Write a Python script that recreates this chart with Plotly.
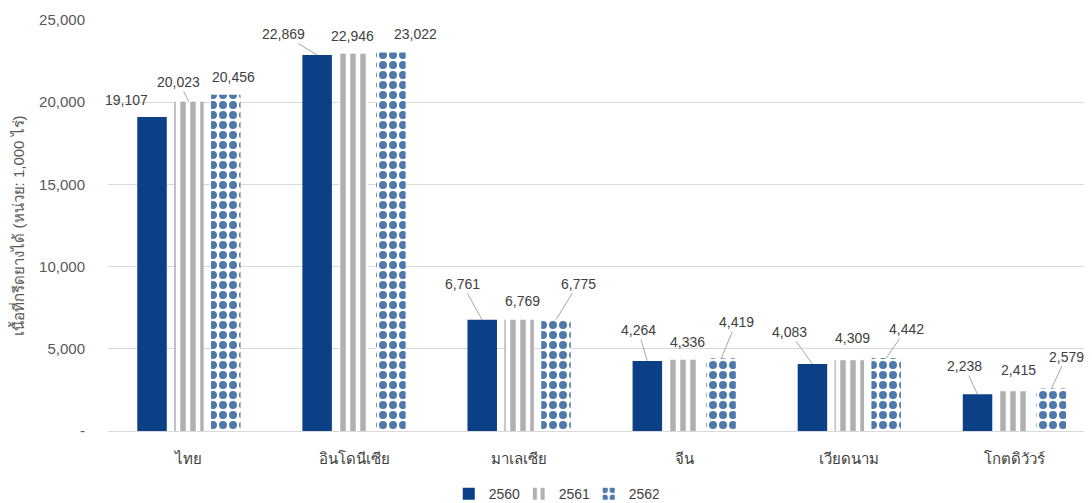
import plotly.graph_objects as go

countries = ["ไทย", "อินโดนีเซีย", "มาเลเซีย", "จีน", "เวียดนาม", "โกตดิวัวร์"]
v2560 = [19107, 22869, 6761, 4264, 4083, 2238]
v2561 = [20023, 22946, 6769, 4336, 4309, 2415]
v2562 = [20456, 23022, 6775, 4419, 4442, 2579]

# label placement (pixels from bar top), like the original's data-label layout
dx2560 = [-25, -34, -20, -9, -23, -13]
dy2560 = [-17, -21, -36, -31, -32, -28]
lead2560 = [False, True, True, True, True, True]
dx2561 = [-10, -2, 3, 3, 3, 4]
dy2561 = [-20, -18, -19, -18, -22, -21]
lead2561 = [True, False, False, False, False, False]
dx2562 = [8, 24, 22, 15, 20, 15]
dy2562 = [-18, -19, -36, -36, -29, -32]
lead2562 = [False, False, True, True, True, True]

font = "Liberation Sans, Arial, sans-serif"

fig = go.Figure()

fig.add_trace(go.Bar(
    x=countries, y=v2560, name="2560",
    marker=dict(color="#0b3f86", line=dict(width=0)),
))
fig.add_trace(go.Bar(
    x=countries, y=v2561, name="2561",
    marker=dict(color="white", line=dict(width=0),
                pattern=dict(shape="|", fgcolor="#b0b0b0", bgcolor="white",
                             fgopacity=1, size=10, solidity=0.55)),
))
fig.add_trace(go.Bar(
    x=countries, y=v2562, name="2562",
    marker=dict(color="white", line=dict(width=0),
                pattern=dict(shape=".", fgcolor="#4f78ab", bgcolor="white",
                             fgopacity=1, size=10, solidity=0.5)),
))

series = [(v2560, dx2560, dy2560, lead2560, -37),
          (v2561, dx2561, dy2561, lead2561, 0),
          (v2562, dx2562, dy2562, lead2562, 37)]
for vals, dxs, dys, leads, off in series:
    for c, v, dx, dy, lead in zip(countries, vals, dxs, dys, leads):
        fig.add_annotation(
            x=c, y=v, xref="x", yref="y", xshift=off,
            text=f"{v:,}", showarrow=True, ax=dx, ay=dy,
            arrowhead=0, arrowwidth=1, standoff=0,
            arrowcolor="#a6a6a6" if lead else "rgba(0,0,0,0)",
            font=dict(size=14, color="#404040"),
        )

fig.update_layout(
    width=1084, height=495,
    margin=dict(l=100, r=0, t=12, b=72, autoexpand=False),
    paper_bgcolor="white", plot_bgcolor="white",
    barmode="group", bargap=0.33, bargroupgap=0.2,
    font=dict(family=font, size=14, color="#595959"),
    showlegend=True,
    legend=dict(orientation="h", x=0.453, xanchor="center", y=-0.115, yanchor="top",
                entrywidth=25, itemwidth=30,
                font=dict(size=14, color="#404040")),
    xaxis=dict(range=[-0.49, 5.47], showgrid=False, showline=True, linecolor="#d9d9d9",
               linewidth=1, tickfont=dict(size=15, color="#404040"), ticks="",
               automargin=False, ticklabelstandoff=14),
    yaxis=dict(range=[0, 25000], tickvals=[0, 5000, 10000, 15000, 20000, 25000],
               ticktext=["-", "5,000", "10,000", "15,000", "20,000", "25,000"],
               showgrid=True, gridcolor="#d9d9d9", zeroline=False, automargin=False,
               tickfont=dict(size=15, color="#595959"), ticks="", ticklabelstandoff=22,
               title=dict(text="เนื้อที่กรีดยางได้ (หน่วย: 1,000 ไร่)",
                          font=dict(size=15, color="#595959"), standoff=10)),
)

fig.write_html("out.html")
